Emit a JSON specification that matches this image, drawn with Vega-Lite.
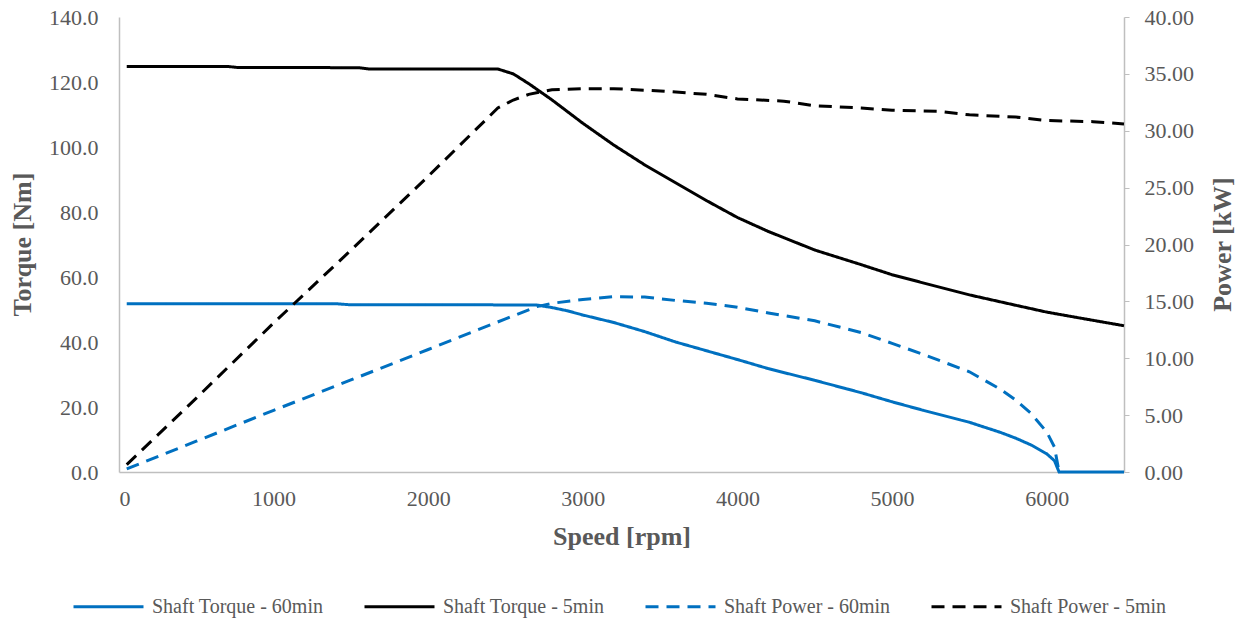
{
  "$schema": "https://vega.github.io/schema/vega-lite/v6.json",
  "width": 1005,
  "height": 455,
  "autosize": {"type": "none"},
  "padding": {"left": 119, "top": 17, "right": 122, "bottom": 148},
  "background": "white",
  "config": {
    "view": {"stroke": null},
    "font": "Liberation Serif",
    "axis": {
      "grid": false,
      "domainColor": "#BFBFBF",
      "domainWidth": 1.5,
      "tickColor": "#BFBFBF",
      "labelColor": "#595959",
      "titleColor": "#595959",
      "labelFont": "Liberation Serif",
      "titleFont": "Liberation Serif",
      "labelFontSize": 22,
      "titleFontSize": 26,
      "titleFontWeight": "bold"
    },
    "legend": {
      "orient": "none",
      "legendX": -47,
      "legendY": 553,
      "direction": "horizontal",
      "columns": 4,
      "symbolType": "stroke",
      "symbolSize": 4900,
      "symbolStrokeWidth": 3,
      "labelFont": "Liberation Serif",
      "labelFontSize": 20,
      "labelColor": "#595959",
      "labelOffset": 7,
      "columnPadding": 34,
      "labelLimit": 400
    }
  },
  "data": {
    "values": [
      {"speed": 50, "value": 124.8, "series": "Shaft Torque - 5min"},
      {"speed": 700, "value": 124.8, "series": "Shaft Torque - 5min"},
      {"speed": 760, "value": 124.5, "series": "Shaft Torque - 5min"},
      {"speed": 1550, "value": 124.4, "series": "Shaft Torque - 5min"},
      {"speed": 1620, "value": 124.0, "series": "Shaft Torque - 5min"},
      {"speed": 2450, "value": 124.0, "series": "Shaft Torque - 5min"},
      {"speed": 2550, "value": 122.5, "series": "Shaft Torque - 5min"},
      {"speed": 2650, "value": 119.5, "series": "Shaft Torque - 5min"},
      {"speed": 2800, "value": 114.5, "series": "Shaft Torque - 5min"},
      {"speed": 3000, "value": 107.3, "series": "Shaft Torque - 5min"},
      {"speed": 3200, "value": 100.6, "series": "Shaft Torque - 5min"},
      {"speed": 3400, "value": 94.5, "series": "Shaft Torque - 5min"},
      {"speed": 3600, "value": 89.0, "series": "Shaft Torque - 5min"},
      {"speed": 3800, "value": 83.5, "series": "Shaft Torque - 5min"},
      {"speed": 4000, "value": 78.3, "series": "Shaft Torque - 5min"},
      {"speed": 4200, "value": 74.0, "series": "Shaft Torque - 5min"},
      {"speed": 4500, "value": 68.3, "series": "Shaft Torque - 5min"},
      {"speed": 4800, "value": 63.8, "series": "Shaft Torque - 5min"},
      {"speed": 5000, "value": 60.7, "series": "Shaft Torque - 5min"},
      {"speed": 5200, "value": 58.2, "series": "Shaft Torque - 5min"},
      {"speed": 5500, "value": 54.5, "series": "Shaft Torque - 5min"},
      {"speed": 5800, "value": 51.3, "series": "Shaft Torque - 5min"},
      {"speed": 6000, "value": 49.2, "series": "Shaft Torque - 5min"},
      {"speed": 6200, "value": 47.5, "series": "Shaft Torque - 5min"},
      {"speed": 6500, "value": 45.0, "series": "Shaft Torque - 5min"},

      {"speed": 50, "value": 51.8, "series": "Shaft Torque - 60min"},
      {"speed": 1400, "value": 51.8, "series": "Shaft Torque - 60min"},
      {"speed": 1480, "value": 51.5, "series": "Shaft Torque - 60min"},
      {"speed": 2700, "value": 51.4, "series": "Shaft Torque - 60min"},
      {"speed": 2800, "value": 50.6, "series": "Shaft Torque - 60min"},
      {"speed": 2900, "value": 49.6, "series": "Shaft Torque - 60min"},
      {"speed": 3000, "value": 48.3, "series": "Shaft Torque - 60min"},
      {"speed": 3200, "value": 46.0, "series": "Shaft Torque - 60min"},
      {"speed": 3400, "value": 43.2, "series": "Shaft Torque - 60min"},
      {"speed": 3600, "value": 40.0, "series": "Shaft Torque - 60min"},
      {"speed": 3800, "value": 37.3, "series": "Shaft Torque - 60min"},
      {"speed": 4000, "value": 34.6, "series": "Shaft Torque - 60min"},
      {"speed": 4200, "value": 31.8, "series": "Shaft Torque - 60min"},
      {"speed": 4500, "value": 28.2, "series": "Shaft Torque - 60min"},
      {"speed": 4800, "value": 24.4, "series": "Shaft Torque - 60min"},
      {"speed": 5000, "value": 21.6, "series": "Shaft Torque - 60min"},
      {"speed": 5200, "value": 19.0, "series": "Shaft Torque - 60min"},
      {"speed": 5500, "value": 15.3, "series": "Shaft Torque - 60min"},
      {"speed": 5700, "value": 12.2, "series": "Shaft Torque - 60min"},
      {"speed": 5800, "value": 10.4, "series": "Shaft Torque - 60min"},
      {"speed": 5900, "value": 8.3, "series": "Shaft Torque - 60min"},
      {"speed": 6000, "value": 5.6, "series": "Shaft Torque - 60min"},
      {"speed": 6050, "value": 3.5, "series": "Shaft Torque - 60min"},
      {"speed": 6080, "value": 0, "series": "Shaft Torque - 60min"},
      {"speed": 6500, "value": 0, "series": "Shaft Torque - 60min"},

      {"speed": 50, "value": 0.65, "series": "Shaft Power - 5min"},
      {"speed": 500, "value": 6.5, "series": "Shaft Power - 5min"},
      {"speed": 1000, "value": 13.1, "series": "Shaft Power - 5min"},
      {"speed": 1500, "value": 19.5, "series": "Shaft Power - 5min"},
      {"speed": 2000, "value": 26.0, "series": "Shaft Power - 5min"},
      {"speed": 2450, "value": 32.0, "series": "Shaft Power - 5min"},
      {"speed": 2550, "value": 32.7, "series": "Shaft Power - 5min"},
      {"speed": 2650, "value": 33.2, "series": "Shaft Power - 5min"},
      {"speed": 2800, "value": 33.6, "series": "Shaft Power - 5min"},
      {"speed": 3000, "value": 33.7, "series": "Shaft Power - 5min"},
      {"speed": 3200, "value": 33.7, "series": "Shaft Power - 5min"},
      {"speed": 3500, "value": 33.5, "series": "Shaft Power - 5min"},
      {"speed": 3800, "value": 33.2, "series": "Shaft Power - 5min"},
      {"speed": 4000, "value": 32.8, "series": "Shaft Power - 5min"},
      {"speed": 4300, "value": 32.6, "series": "Shaft Power - 5min"},
      {"speed": 4500, "value": 32.2, "series": "Shaft Power - 5min"},
      {"speed": 4800, "value": 32.0, "series": "Shaft Power - 5min"},
      {"speed": 5000, "value": 31.8, "series": "Shaft Power - 5min"},
      {"speed": 5300, "value": 31.7, "series": "Shaft Power - 5min"},
      {"speed": 5500, "value": 31.4, "series": "Shaft Power - 5min"},
      {"speed": 5800, "value": 31.2, "series": "Shaft Power - 5min"},
      {"speed": 6000, "value": 30.9, "series": "Shaft Power - 5min"},
      {"speed": 6300, "value": 30.8, "series": "Shaft Power - 5min"},
      {"speed": 6500, "value": 30.6, "series": "Shaft Power - 5min"},

      {"speed": 50, "value": 0.27, "series": "Shaft Power - 60min"},
      {"speed": 500, "value": 2.71, "series": "Shaft Power - 60min"},
      {"speed": 1000, "value": 5.42, "series": "Shaft Power - 60min"},
      {"speed": 1500, "value": 8.09, "series": "Shaft Power - 60min"},
      {"speed": 2000, "value": 10.77, "series": "Shaft Power - 60min"},
      {"speed": 2500, "value": 13.46, "series": "Shaft Power - 60min"},
      {"speed": 2700, "value": 14.53, "series": "Shaft Power - 60min"},
      {"speed": 2800, "value": 14.83, "series": "Shaft Power - 60min"},
      {"speed": 3000, "value": 15.17, "series": "Shaft Power - 60min"},
      {"speed": 3200, "value": 15.41, "series": "Shaft Power - 60min"},
      {"speed": 3400, "value": 15.38, "series": "Shaft Power - 60min"},
      {"speed": 3600, "value": 15.08, "series": "Shaft Power - 60min"},
      {"speed": 3800, "value": 14.84, "series": "Shaft Power - 60min"},
      {"speed": 4000, "value": 14.49, "series": "Shaft Power - 60min"},
      {"speed": 4200, "value": 13.98, "series": "Shaft Power - 60min"},
      {"speed": 4500, "value": 13.29, "series": "Shaft Power - 60min"},
      {"speed": 4800, "value": 12.26, "series": "Shaft Power - 60min"},
      {"speed": 5000, "value": 11.31, "series": "Shaft Power - 60min"},
      {"speed": 5200, "value": 10.35, "series": "Shaft Power - 60min"},
      {"speed": 5500, "value": 8.81, "series": "Shaft Power - 60min"},
      {"speed": 5700, "value": 7.28, "series": "Shaft Power - 60min"},
      {"speed": 5800, "value": 6.32, "series": "Shaft Power - 60min"},
      {"speed": 5900, "value": 5.13, "series": "Shaft Power - 60min"},
      {"speed": 6000, "value": 3.52, "series": "Shaft Power - 60min"},
      {"speed": 6050, "value": 2.2, "series": "Shaft Power - 60min"},
      {"speed": 6080, "value": 0, "series": "Shaft Power - 60min"}
    ]
  },
  "encoding": {
    "x": {
      "field": "speed",
      "type": "quantitative",
      "scale": {"domain": [0, 6500], "nice": false},
      "axis": {
        "values": [0, 1000, 2000, 3000, 4000, 5000, 6000],
        "format": "d",
        "ticks": false,
        "labelPadding": 16,
        "title": "Speed [rpm]",
        "titlePadding": 14
      }
    },
    "color": {
      "field": "series",
      "type": "nominal",
      "title": null,
      "scale": {
        "domain": ["Shaft Torque - 60min", "Shaft Torque - 5min", "Shaft Power - 60min", "Shaft Power - 5min"],
        "range": ["#0070C0", "#000000", "#0070C0", "#000000"]
      }
    },
    "strokeDash": {
      "field": "series",
      "type": "nominal",
      "title": null,
      "scale": {
        "domain": ["Shaft Torque - 60min", "Shaft Torque - 5min", "Shaft Power - 60min", "Shaft Power - 5min"],
        "range": [[1, 0], [1, 0], [13, 8], [13, 8]]
      }
    }
  },
  "layer": [
    {
      "transform": [{"filter": "indexof(datum.series, 'Torque') >= 0"}],
      "mark": {"type": "line", "strokeWidth": 3},
      "encoding": {
        "y": {
          "field": "value",
          "type": "quantitative",
          "scale": {"domain": [0, 140], "nice": false},
          "axis": {
            "orient": "left",
            "values": [0, 20, 40, 60, 80, 100, 120, 140],
            "format": ".1f",
            "ticks": false,
            "labelPadding": 21,
            "title": "Torque [Nm]",
            "titleX": -97,
            "titleY": 227,
            "titleAngle": 270,
            "titleBaseline": "middle",
            "titleAlign": "center"
          }
        }
      }
    },
    {
      "transform": [{"filter": "indexof(datum.series, 'Power') >= 0"}],
      "mark": {"type": "line", "strokeWidth": 3},
      "encoding": {
        "y": {
          "field": "value",
          "type": "quantitative",
          "scale": {"domain": [0, 40], "nice": false},
          "axis": {
            "orient": "right",
            "values": [0, 5, 10, 15, 20, 25, 30, 35, 40],
            "format": ".2f",
            "ticks": true,
            "tickSize": 5,
            "labelPadding": 15,
            "title": "Power [kW]",
            "titleX": 98,
            "titleY": 227,
            "titleAngle": 270,
            "titleBaseline": "middle",
            "titleAlign": "center"
          }
        }
      }
    }
  ],
  "resolve": {"scale": {"y": "independent"}}
}
